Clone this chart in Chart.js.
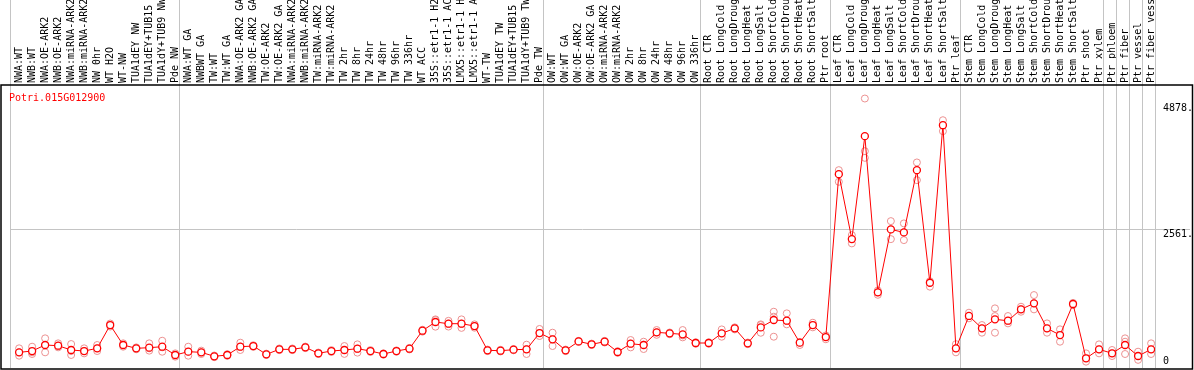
<!DOCTYPE html>
<html>
<head>
<meta charset="utf-8">
<script src="https://cdn.jsdelivr.net/npm/chart.js@4.4.1/dist/chart.umd.min.js"></script>
<style>
  html, body { margin: 0; padding: 0; background: #fff; }
  #wrap { width: 1194px; height: 370px; }
</style>
</head>
<body>
<div id="wrap"><canvas id="exprChart"></canvas></div>
<script>
const geneId = 'Potri.015G012900';

const samples = [
    'NWA:WT', 'NWB:WT', 'NWA:OE-ARK2', 'NWB:OE-ARK2', 'NWA:miRNA-ARK2', 'NWB:miRNA-ARK2', 'NW 0hr', 'WT H2O',
    'WT-NW', 'TUA1dEY NW', 'TUA1dEY+TUB15 NW', 'TUA1dY+TUB9 NW', 'Pde NW',
    'NWA:WT GA', 'NWBWT GA', 'TW:WT', 'TW:WT GA', 'NWA:OE-ARK2 GA', 'NWB:OE-ARK2 GA', 'TW:OE-ARK2', 'TW:OE-ARK2 GA',
    'NWA:miRNA-ARK2', 'NWB:miRNA-ARK2', 'TW:miRNA-ARK2', 'TW:miRNA-ARK2', 'TW 2hr', 'TW 8hr', 'TW 24hr', 'TW 48hr',
    'TW 96hr', 'TW 336hr', 'WT ACC', '35S::etr1-1 H2O', '35S::etr1-1 ACC', 'LMX5::etr1-1 H2O', 'LMX5::etr1-1 ACC',
    'WT-TW', 'TUA1dEY TW', 'TUA1dEY+TUB15 TW', 'TUA1dY+TUB9 TW', 'Pde TW',
    'OW:WT', 'OW:WT GA', 'OW:OE-ARK2', 'OW:OE-ARK2 GA', 'OW:miRNA-ARK2', 'OW:miRNA-ARK2', 'OW 2hr', 'OW 8hr',
    'OW 24hr', 'OW 48hr', 'OW 96hr', 'OW 336hr',
    'Root CTR', 'Root LongCold', 'Root LongDrought', 'Root LongHeat', 'Root LongSalt', 'Root ShortCold',
    'Root ShortDrought', 'Root ShortHeat', 'Root ShortSalt', 'Ptr root',
    'Leaf CTR', 'Leaf LongCold', 'Leaf LongDrought', 'Leaf LongHeat', 'Leaf LongSalt', 'Leaf ShortCold',
    'Leaf ShortDrought', 'Leaf ShortHeat', 'Leaf ShortSalt', 'Ptr leaf',
    'Stem CTR', 'Stem LongCold', 'Stem LongDrought', 'Stem LongHeat', 'Stem LongSalt', 'Stem ShortCold',
    'Stem ShortDrought', 'Stem ShortHeat', 'Stem ShortSalt', 'Ptr shoot',
    'Ptr xylem', 'Ptr phloem', 'Ptr fiber', 'Ptr vessel', 'Ptr fiber vessel'
];

// mean expression per sample (the red line)
const means = [
    289, 313, 424, 411, 332, 313, 363, 792, 424, 363,
    375, 393, 240, 301, 289, 215, 240, 393, 405, 252,
    344, 344, 381, 271, 313, 332, 356, 313, 258, 313,
    356, 688, 848, 817, 817, 774, 326, 319, 338, 344,
    645, 528, 326, 490, 437, 485, 295, 448, 424, 658,
    639, 621, 461, 461, 639, 731, 455, 749, 885, 872,
    467, 792, 570, 3575, 2377, 4276, 1395, 2556, 2501, 3649,
    1572, 4478, 363, 960, 731, 897, 872, 1082, 1192, 731,
    608, 1180, 179, 344, 271, 424, 221, 344
];

// individual replicates (pink circles)
const repA = [
    363, 393, 547, 455, 442, 363, 424, 820, 455, 380,
    455, 503, 270, 393, 320, 230, 255, 467, 420, 265,
    360, 360, 395, 285, 330, 405, 436, 330, 270, 325,
    370, 705, 897, 870, 897, 805, 340, 335, 350, 430,
    720, 651, 340, 500, 450, 500, 310, 516, 485, 700,
    655, 700, 475, 475, 712, 750, 470, 805, 1038, 1008,
    480, 835, 600, 3649, 2451, 4970, 1430, 2709, 2667, 3791,
    1600, 4570, 440, 1020, 792, 1100, 958, 1130, 1345, 823,
    713, 1200, 270, 436, 332, 547, 301, 455
];
const repB = [
    289, 290, 424, 411, 313, 313, 363, 792, 424, 363,
    363, 381, 240, 301, 289, 215, 240, 393, 405, 252,
    344, 344, 381, 271, 313, 332, 356, 313, 258, 313,
    356, 688, 885, 817, 817, 774, 326, 319, 338, 350,
    645, 528, 326, 490, 437, 485, 295, 448, 430, 658,
    639, 600, 461, 461, 639, 731, 455, 792, 946, 872,
    467, 792, 570, 3575, 2377, 3999, 1395, 2556, 2501, 3649,
    1572, 4478, 363, 958, 731, 958, 872, 1082, 1192, 731,
    608, 1180, 179, 344, 271, 485, 221, 344
];
const repC = [
    227, 258, 289, 381, 240, 270, 313, 765, 393, 345,
    320, 300, 209, 227, 258, 200, 225, 332, 390, 240,
    330, 330, 367, 258, 296, 260, 283, 296, 246, 300,
    342, 670, 762, 764, 740, 743, 312, 305, 326, 258,
    590, 405, 312, 480, 424, 470, 280, 380, 350, 612,
    623, 565, 447, 447, 577, 712, 440, 650, 577, 805,
    424, 750, 530, 3434, 2298, 3876, 1350, 2377, 2359, 3465,
    1500, 4368, 289, 916, 651, 651, 823, 1038, 1081, 651,
    485, 1160, 117, 270, 221, 258, 150, 258
];

// last sample index of each group (grey separators)
const groupEnds = [12, 40, 52, 62, 72, 83, 84, 85, 86, 87];

const yTickValues = [0, 2561, 4878];
const yTickLabels = ['0', '2561.', '4878.'];
const yGridValues = [2561];

const monoFont = { family: '"DejaVu Sans Mono", monospace', size: 10 };
const yMax = 4878 * 1.07;
const toPoints = arr => arr.map((v, i) => ({ x: i, y: v }));

// frame, group separators and gene title
const framePlugin = {
    id: 'frame',
    beforeDatasetsDraw(chart) {
        const { ctx, chartArea, scales: { x } } = chart;
        ctx.save();
        ctx.strokeStyle = '#c4c4c4';
        ctx.lineWidth = 1;
        [-1, ...groupEnds].forEach(j => {
            const px = Math.round(x.getPixelForValue(j + 0.3)) + 0.5;
            ctx.beginPath();
            ctx.moveTo(px, 0);
            ctx.lineTo(px, chartArea.bottom);
            ctx.stroke();
        });
        ctx.restore();
    },
    afterDraw(chart) {
        const { ctx, chartArea } = chart;
        ctx.save();
        ctx.strokeStyle = '#000';
        ctx.lineWidth = 1.5;
        ctx.strokeRect(1, chartArea.top, chart.width - 2.5, chartArea.bottom - chartArea.top + 1);
        ctx.fillStyle = '#ff0000';
        ctx.font = '10px "DejaVu Sans Mono", monospace';
        ctx.textBaseline = 'alphabetic';
        ctx.fillText(geneId, 9, 100.5);
        ctx.restore();
    }
};

new Chart(document.getElementById('exprChart'), {
    type: 'scatter',
    data: {
        datasets: [
            {
                label: 'mean',
                data: toPoints(means),
                showLine: true,
                borderColor: '#ff0000',
                borderWidth: 1,
                pointRadius: 3.5,
                pointBorderWidth: 1.3,
                pointBorderColor: '#ff0000',
                pointBackgroundColor: '#ffffff',
                order: 0
            },
            ...[repA, repB, repC].map((r, k) => ({
                label: 'rep' + (k + 1),
                data: toPoints(r),
                pointRadius: 3.5,
                pointBorderWidth: 1,
                borderColor: '#ec9090',
                backgroundColor: 'rgba(0,0,0,0)',
                order: 1
            }))
        ]
    },
    options: {
        responsive: true,
        maintainAspectRatio: false,
        animation: false,
        layout: { autoPadding: false, padding: { left: 10, right: 0, top: 0, bottom: 2 } },
        plugins: {
            legend: { display: false },
            tooltip: { enabled: false }
        },
        scales: {
            x: {
                type: 'linear',
                position: 'top',
                min: -0.7,
                max: 87.3,
                afterBuildTicks: s => { s.ticks = samples.map((_, i) => ({ value: i })); },
                afterFit: s => { s.height = 85; s.paddingLeft = 0; s.paddingRight = 0; },
                grid: { display: false, drawTicks: false },
                border: { display: false },
                ticks: {
                    autoSkip: false,
                    minRotation: 90,
                    maxRotation: 90,
                    padding: 2,
                    labelOffset: 12,
                    color: '#000',
                    font: monoFont,
                    callback: v => samples[v]
                }
            },
            y: {
                position: 'right',
                min: 0,
                max: yMax,
                afterBuildTicks: s => { s.ticks = yTickValues.map(v => ({ value: v })); },
                afterFit: s => { s.width = 39; s.paddingTop = 0; s.paddingBottom = 0; },
                grid: {
                    drawTicks: true,
                    tickLength: 35,
                    lineWidth: 1,
                    color: c => (c.tick && yGridValues.includes(c.tick.value)) ? '#c4c4c4' : 'rgba(0,0,0,0)'
                },
                border: { display: false },
                ticks: {
                    align: 'start',
                    padding: -27,
                    color: '#000',
                    font: monoFont,
                    callback: v => {
                        const lbl = yTickLabels[yTickValues.indexOf(v)];
                        return v === 0 ? [lbl, '', ''] : lbl;
                    }
                }
            }
        }
    },
    plugins: [framePlugin]
});
</script>
</body>
</html>
